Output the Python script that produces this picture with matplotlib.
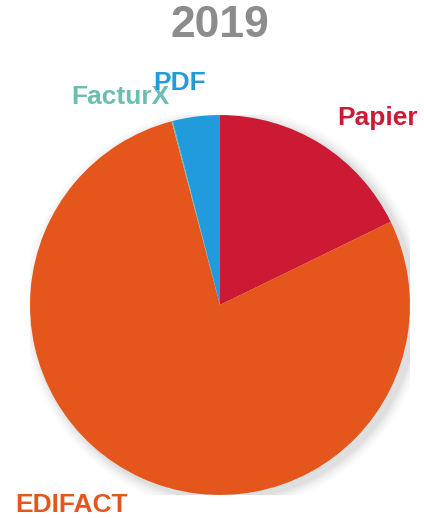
import matplotlib
matplotlib.use("Agg")
import matplotlib.pyplot as plt
from matplotlib.patches import Circle

title = "2019"
categories = ["Papier", "EDIFACT", "FacturX", "PDF"]
values = [17.8, 78.2, 0.1, 4.0]
colors = ["#CC1A35", "#E4561B", "#6BBFB1", "#219BDC"]

plt.rcParams['font.family'] = ['Liberation Sans', 'DejaVu Sans']

fig = plt.figure(figsize=(4.24, 5.18), dpi=100)
ax = fig.add_axes([0.0708, 0.0444, 0.896, 0.7336])

# soft shadow
for i, a in enumerate([0.035, 0.03, 0.025, 0.02, 0.015]):
    ax.add_patch(Circle((0.025, -0.02), 1.0 + 0.012 * (i + 1), color="black", alpha=a, lw=0, zorder=0))

wedges, texts = ax.pie(values, labels=categories, colors=colors, startangle=90,
                       counterclock=False, labeldistance=1.16,
                       wedgeprops=dict(linewidth=0, zorder=2),
                       textprops=dict(fontsize=19, fontweight='bold'))
for t, c in zip(texts, colors):
    t.set_color(c)
    t.set_clip_on(False)

# nudge the crowded small-slice labels (as in the reference)
px = 1 / 190.0
x, y = texts[2].get_position()
texts[2].set_position((x + 5 * px, y - 5 * px))
x, y = texts[3].get_position()
texts[3].set_position((x + 14 * px, y + 3 * px))

ax.set_xlim(-1, 1)
ax.set_ylim(-1, 1)
ax.set_aspect('equal')
ax.axis('off')

fig.text(0.519, 0.95, title, ha='center', va='center', fontsize=32,
         fontweight='bold', color='#8C8C8C')

fig.savefig("out.png", dpi=100)
